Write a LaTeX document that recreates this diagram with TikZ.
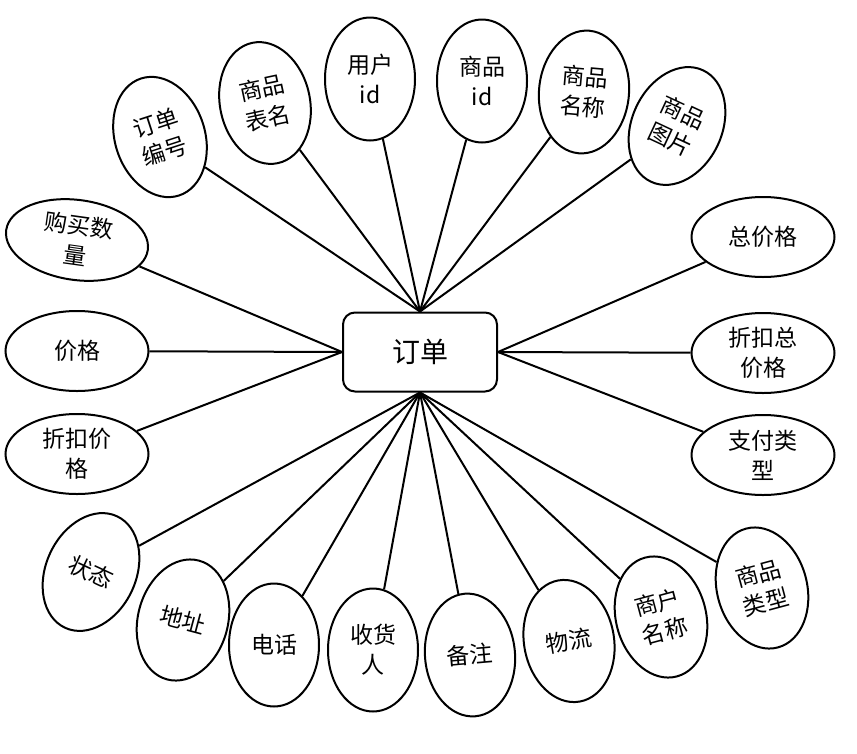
\documentclass[tikz,border=0pt]{standalone}
\usepackage{fontspec}
\setmainfont{Noto Sans CJK SC}
\usetikzlibrary{shapes.geometric,positioning}

\begin{document}
\begin{tikzpicture}[x=1pt, y=-1pt, line width=2pt,
    attr/.style={ellipse, draw, fill=white, inner sep=0pt, align=center, font=\fontsize{23}{30}\selectfont},
    tall/.style={attr, minimum width=90pt, minimum height=123pt},
    wide/.style={attr, minimum width=143pt, minimum height=80pt},
    entity/.style={rectangle, rounded corners=12pt, draw, fill=white, minimum width=154pt, minimum height=79pt, font=\fontsize{28}{32}\selectfont}]
    \useasboundingbox (0,0) rectangle (857,753);

    % Entidad
    \node[entity] (ord) at (420,352) {订单};

    % Atributos de arriba
    \node[tall, rotate=18] (a1) at (160,137) {订单\\编号};
    \node[tall, rotate=12] (a2) at (265,103) {商品\\表名};
    \node[tall] (a3) at (370,79) {用户\\id};
    \node[tall] (a4) at (482,81) {商品\\id};
    \node[tall, rotate=-5] (a5) at (584,92) {商品\\名称};
    \node[tall, rotate=-25] (a6) at (677,126) {商品\\图片};

    % Atributos de los lados
    \node[wide, rotate=-8] (l1) at (77,240) {购买数\\量};
    \node[wide] (l2) at (77,351) {价格};
    \node[wide] (l3) at (77,454) {折扣价\\格};
    \node[wide] (r1) at (763,237) {总价格};
    \node[wide] (r2) at (763,353) {折扣总\\价格};
    \node[wide] (r3) at (763,455) {支付类\\型};

    % Atributos de abajo
    \node[tall, rotate=-25] (b1) at (91,572) {状态};
    \node[tall, rotate=-15] (b2) at (183,620) {地址};
    \node[tall] (b3) at (274,645) {电话};
    \node[tall] (b4) at (373,650) {收货\\人};
    \node[tall, rotate=5] (b5) at (470,655) {备注};
    \node[tall, rotate=10] (b6) at (569,641) {物流};
    \node[tall, rotate=15] (b7) at (661,617) {商户\\名称};
    \node[tall, rotate=15] (b8) at (762,588) {商品\\类型};

    \foreach \n in {a1,a2,a3,a4,a5,a6}
      \draw (ord.north) -- (\n);
    \foreach \n in {l1,l2,l3}
      \draw (ord.west) -- (\n);
    \foreach \n in {r1,r2,r3}
      \draw (ord.east) -- (\n);
    \foreach \n in {b1,b2,b3,b4,b5,b6,b7,b8}
      \draw (ord.south) -- (\n);
\end{tikzpicture}
\end{document}
